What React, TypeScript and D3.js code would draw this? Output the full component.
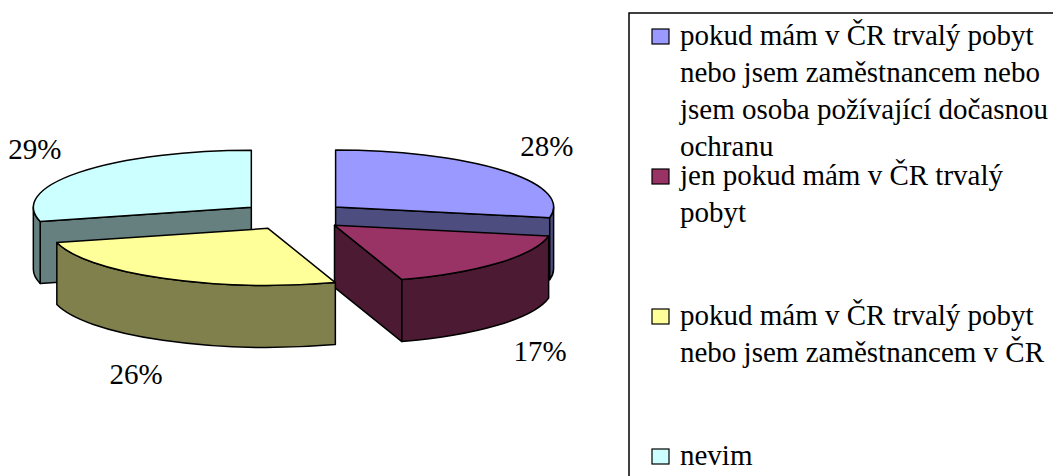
import React from 'react'
import * as d3 from 'd3'

// answers, in the order Excel draws them (clockwise from 12 o'clock)
const categories = [
  ['pokud mám v ČR trvalý pobyt', 'nebo jsem zaměstnancem nebo', 'jsem osoba požívající dočasnou', 'ochranu'],
  ['jen pokud mám v ČR trvalý', 'pobyt'],
  ['pokud mám v ČR trvalý pobyt', 'nebo jsem zaměstnancem v ČR'],
  ['nevim'],
]
const values = [28, 17, 26, 29]
const colors = ['#9999FF', '#993366', '#FFFF99', '#CCFFFF']

const W = 1053
const H = 476
const FONT = "'Times New Roman', Tinos, 'Liberation Serif', 'DejaVu Serif', serif"

// 3d pie geometry
const cx = 294
const cy = 216
const rx = 218
const ry = 57
const depth = 62
const explode = 54
const labelRx = 328
const labelRy = 110

const dark = (c: string) => {
  const k = d3.rgb(c)
  return d3.rgb(k.r * 0.5, k.g * 0.5, k.b * 0.5).formatHex()
}

const App = () => {
  const arcs = d3.pie<number>().sort(null)(values)

  const slices = arcs.map((a, i) => {
    const mid = (a.startAngle + a.endAngle) / 2
    const ox = cx + Math.sin(mid) * explode
    const oy = cy - Math.cos(mid) * explode * (ry / rx)
    const pt = (ang: number, dy = 0): [number, number] => [ox + rx * Math.sin(ang), oy - ry * Math.cos(ang) + dy]
    const a0 = a.startAngle
    const a1 = a.endAngle
    const large = a1 - a0 > Math.PI ? 1 : 0

    const p0 = pt(a0)
    const p1 = pt(a1)
    const top = `M${ox},${oy}L${p0[0]},${p0[1]}A${rx},${ry} 0 ${large} 1 ${p1[0]},${p1[1]}Z`

    const walls: string[] = []
    const wall = (ang: number) => {
      const p = pt(ang)
      return `M${ox},${oy}L${p[0]},${p[1]}L${p[0]},${p[1] + depth}L${ox},${oy + depth}Z`
    }
    if (Math.sin(a0) < -1e-6) walls.push(wall(a0))
    if (Math.sin(a1) > 1e-6) walls.push(wall(a1))

    const b0 = Math.max(a0, Math.PI / 2)
    const b1 = Math.min(a1, Math.PI * 1.5)
    if (b1 > b0) {
      const q0 = pt(b0)
      const q1 = pt(b1)
      const q1d = pt(b1, depth)
      const q0d = pt(b0, depth)
      walls.push(
        `M${q0[0]},${q0[1]}A${rx},${ry} 0 0 1 ${q1[0]},${q1[1]}L${q1d[0]},${q1d[1]}A${rx},${ry} 0 0 0 ${q0d[0]},${q0d[1]}Z`
      )
    }

    const front = Math.cos(mid) < 0
    const lx = cx + Math.sin(mid) * labelRx
    const ly = cy - Math.cos(mid) * labelRy + (front ? depth : 0)

    return { i, mid, top, walls, lx, ly, label: `${values[i]}%` }
  })

  // paint back slices first
  const order = [...slices].sort((p, q) => -Math.cos(p.mid) - -Math.cos(q.mid))

  return (
    <svg width={W} height={H} style={{ position: 'absolute', left: 0, top: 0, background: '#fff' }}>
      <g stroke="#000" strokeWidth={1.5} strokeLinejoin="round">
        {order.map((s) => (
          <g key={s.i}>
            {s.walls.map((d, j) => (
              <path key={j} d={d} fill={dark(colors[s.i])} />
            ))}
            <path d={s.top} fill={colors[s.i]} />
          </g>
        ))}
      </g>
      <g style={{ fontFamily: FONT, fontSize: 29 }} textAnchor="middle">
        {slices.map((s) => (
          <text key={s.i} x={s.lx} y={s.ly + 10}>
            {s.label}
          </text>
        ))}
      </g>

      {/* legend, cut off by the right and bottom edges */}
      <rect x={629} y={13} width={500} height={500} fill="none" stroke="#000" strokeWidth={1.5} />
      <g style={{ fontFamily: FONT, fontSize: 29 }}>
        {categories.map((lines, i) => {
          const base = 45 + i * 140
          return (
            <g key={i}>
              <rect x={652} y={base - 16} width={17} height={15} fill={colors[i]} stroke="#000" strokeWidth={1.2} />
              {lines.map((t, j) => (
                <text key={j} x={680} y={base + j * 37}>
                  {t}
                </text>
              ))}
            </g>
          )
        })}
      </g>
    </svg>
  )
}

export default App
